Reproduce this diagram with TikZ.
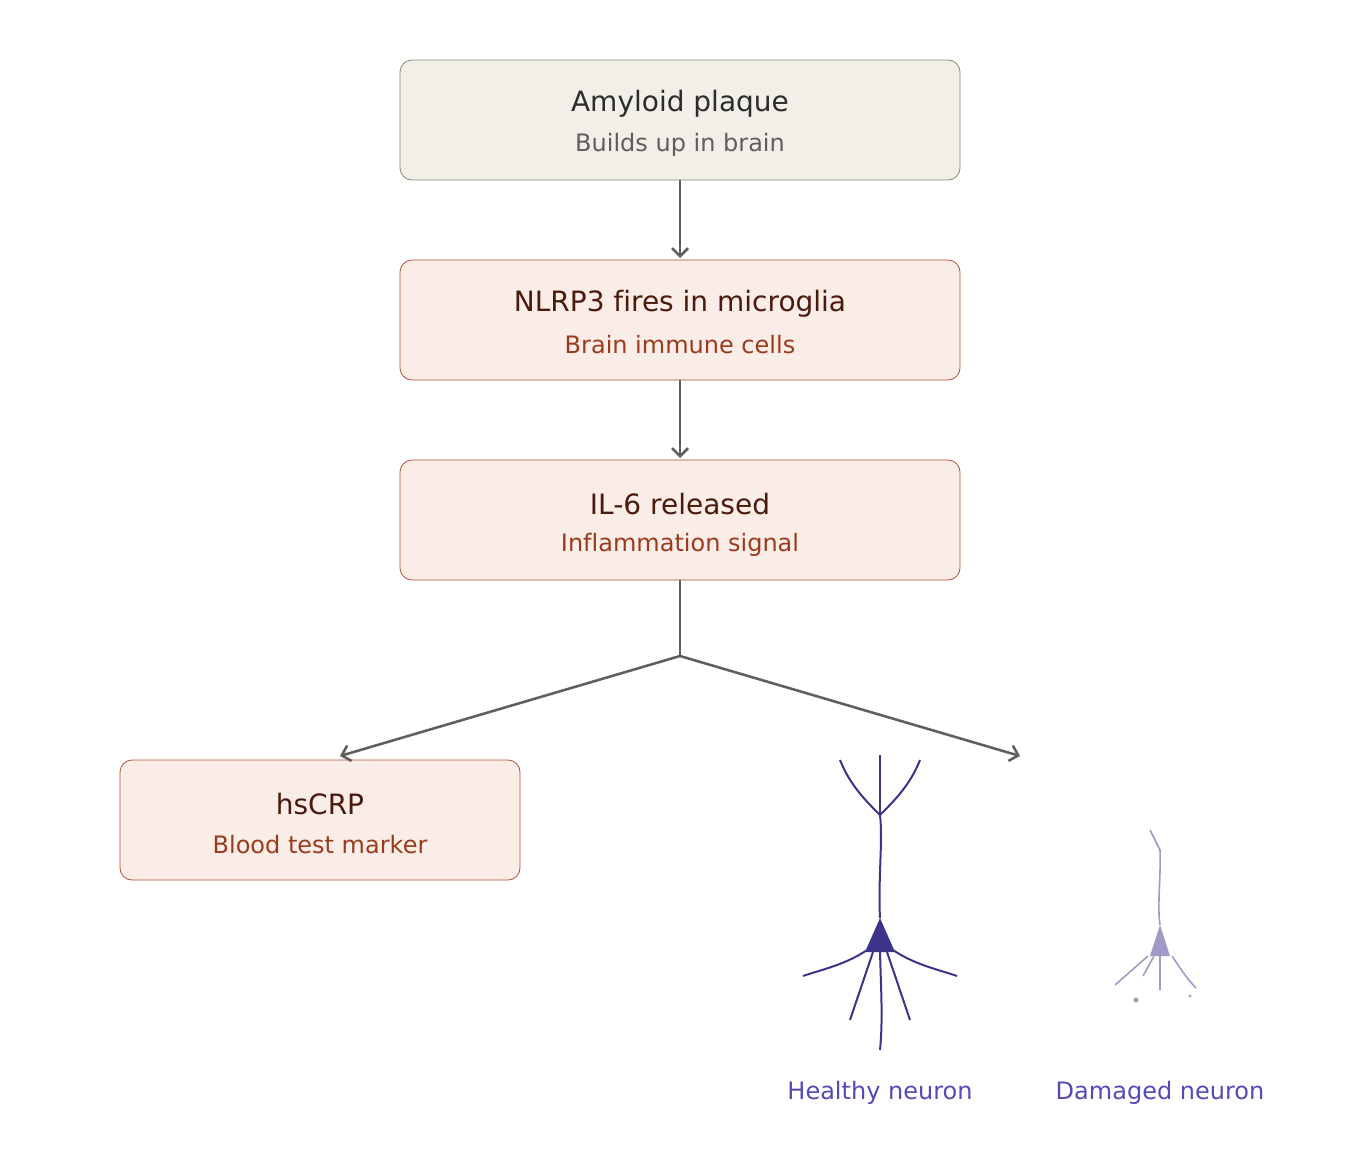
\documentclass[tikz,border=0pt]{standalone}
\usepackage{fontspec}
\setmainfont[Ligatures=NoCommon]{DejaVu Sans}
\usetikzlibrary{arrows.meta}
\definecolor{gbf}{HTML}{F1EFE8}\definecolor{gbd}{HTML}{888780}
\definecolor{pf}{HTML}{FAECE7}\definecolor{pd}{HTML}{A9543A}
\definecolor{pt}{HTML}{4A1B0C}\definecolor{ps}{HTML}{993C1D}
\definecolor{gt}{HTML}{2C2C2A}\definecolor{gs}{HTML}{5F5E5A}
\definecolor{nv}{HTML}{3C3489}\definecolor{nd}{HTML}{A09BC6}\definecolor{nl}{HTML}{534AB7}
\definecolor{ar}{HTML}{5F5E5A}
\begin{document}
\begin{tikzpicture}[x=0.75pt,y=-0.75pt,
 box/.style={draw=pd,fill=pf,rounded corners=9pt,line width=0.6pt},
 gbox/.style={draw=gbd,fill=gbf,rounded corners=9pt,line width=0.6pt},
 ttl/.style={font=\fontsize{21}{25}\selectfont,color=pt},
 sub/.style={font=\fontsize{18}{21}\selectfont,color=ps},
 arr/.style={draw=ar,line width=1.9pt,-{Straight Barb[length=6pt,width=12pt]}},
 nrn/.style={draw=nv,line width=1.5pt},
 dmg/.style={draw=nd,line width=1.2pt}]
\useasboundingbox (0,0) rectangle (1360,1160);
\draw[gbox] (400,60) rectangle (960,180);
\node[ttl,color=gt] (a) at (680,104) {Amyloid plaque};
\node[sub,color=gs] (as) at (680,145) {Builds up in brain};
\draw[box] (400,260) rectangle (960,380);
\node[ttl] (b) at (680,304) {NLRP3 fires in microglia};
\node[sub] (bs) at (680,345) {Brain immune cells};
\draw[box] (400,460) rectangle (960,580);
\node[ttl] (c) at (680,504) {IL-6 released};
\node[sub] (cs) at (680,545) {Inflammation signal};
\draw[box] (120,760) rectangle (520,880);
\node[ttl] (d) at (320,804) {hsCRP};
\node[sub] (ds) at (320,845) {Blood test marker};
\coordinate (a1) at (680,180); \coordinate (b0) at (680,258);
\coordinate (b1) at (680,380); \coordinate (c0) at (680,458);
\coordinate (c1) at (680,580); \coordinate (m) at (680,656);
\coordinate (l) at (340,756); \coordinate (r) at (1020,756);
\draw[arr] (a1) -- (b0);
\draw[arr] (b1) -- (c0);
\draw[draw=ar,line width=1.9pt] (c1) -- (m);
\draw[arr] (m) -- (l);
\draw[arr] (m) -- (r);
% healthy neuron
\draw[nrn] (840,760) .. controls (850,785) and (865,800) .. (880,815);
\draw[nrn] (920,760) .. controls (910,785) and (895,800) .. (880,815);
\draw[nrn] (880,755) -- (880,815);
\draw[nrn] (880,815) .. controls (883,840) and (878,880) .. (880,918);
\fill[nv] (880,918) -- (865,952) -- (895,952) -- cycle;
\draw[nrn] (867,950) .. controls (845,965) and (820,970) .. (803,976);
\draw[nrn] (893,950) .. controls (915,965) and (940,970) .. (957,976);
\draw[nrn] (873,952) -- (850,1020);
\draw[nrn] (887,952) -- (910,1020);
\draw[nrn] (880,952) .. controls (881,990) and (883,1020) .. (880,1050);
% damaged neuron
\draw[dmg] (1150,830) -- (1160,850) .. controls (1161,880) and (1157,905) .. (1160,925);
\fill[nd] (1160,925) -- (1150,956) -- (1170,956) -- cycle;
\draw[dmg] (1148,956) -- (1115,985);
\draw[dmg] (1154,956) -- (1143,976);
\draw[dmg] (1160,956) -- (1160,990);
\draw[dmg] (1172,956) .. controls (1180,968) and (1188,980) .. (1196,988);
\fill[nd] (1136,1000) circle (2.5);
\fill[nd] (1190,996) circle (1.7);
\node[sub,color=nl] (hl) at (880,1093) {Healthy neuron};
\node[sub,color=nl] (dl) at (1160,1093) {Damaged neuron};
\end{tikzpicture}
\end{document}
